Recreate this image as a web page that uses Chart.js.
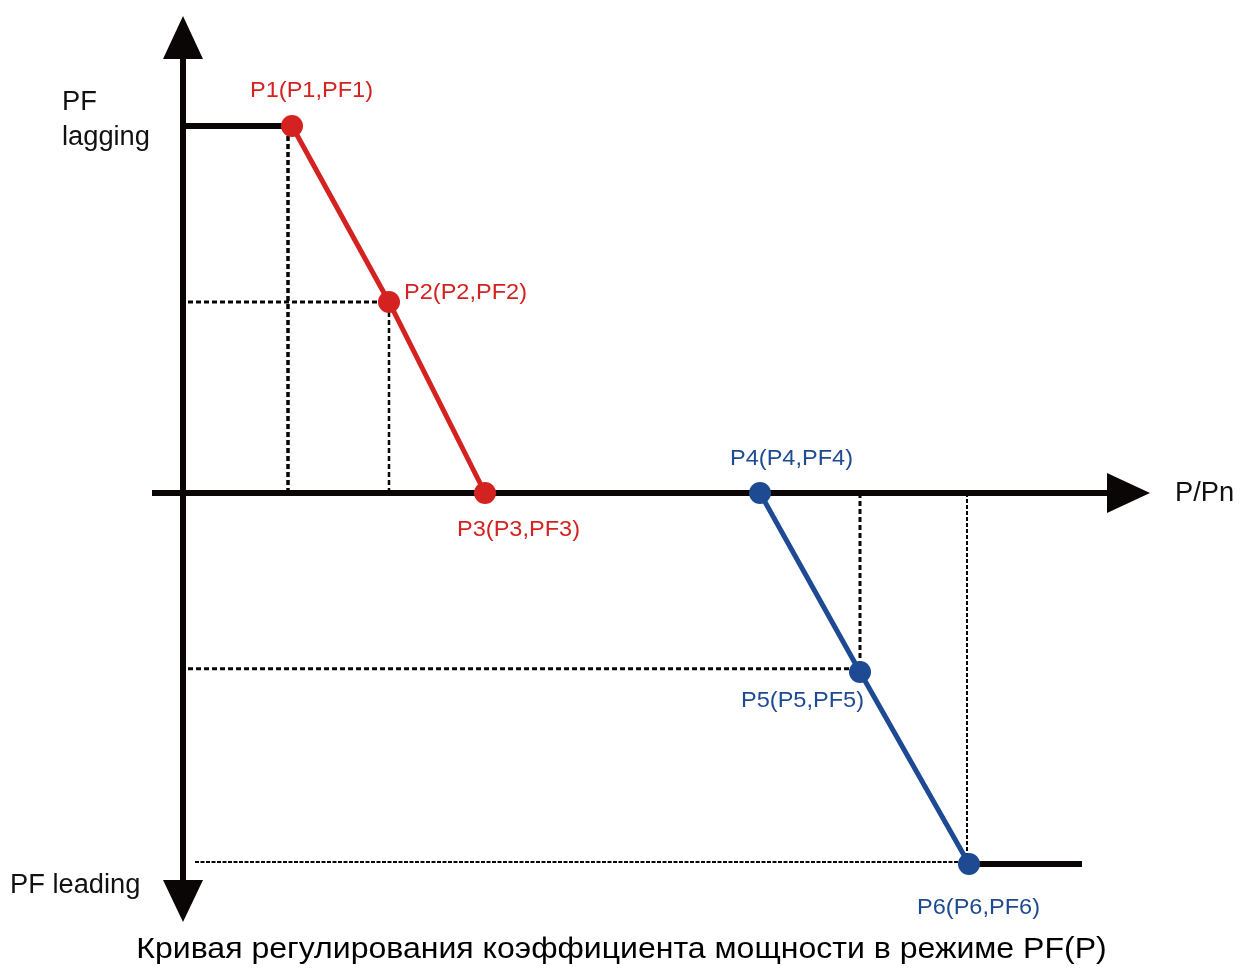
<!DOCTYPE html>
<html>
<head>
<meta charset="utf-8">
<script src="https://cdn.jsdelivr.net/npm/chart.js@4"></script>
<style>
  html, body { margin: 0; padding: 0; background: #fff; }
  #wrap { width: 1241px; height: 979px; }
</style>
</head>
<body>
<div id="wrap"><canvas id="pfChart"></canvas></div>
<script>
// ================= DATA =================
const pointNames = ["P1(P1,PF1)", "P2(P2,PF2)", "P3(P3,PF3)", "P4(P4,PF4)", "P5(P5,PF5)", "P6(P6,PF6)"];
const pValues = [0.109, 0.206, 0.302, 0.577, 0.677, 0.786];   // P/Pn
const pfValues = [0.9175, 0.4775, 0, 0, -0.4475, -0.9275];    // PF (+ lagging, - leading)
const flatEnd = 0.899;                                         // end of PF6 plateau
const guideStartX = [0.005, 0.005, 0.012];                     // left ends of horizontal guides (P2, P5, P6)

const xTitle = "P/Pn";
const yTopTitle = ["PF", "lagging"];
const yBottomTitle = "PF leading";
const chartTitle = "Кривая регулирования коэффициента мощности в режиме PF(P)";

// ================= STYLES =================
const RED = "#d42220";
const BLUE = "#1d4a93";
const INK = "#0a0606";
const FONT = "'Liberation Sans', Arial, sans-serif";

const pt = i => ({ x: pValues[i], y: pfValues[i] });

// label offsets relative to the point (px): [dx, dy, align]
const labelPlace = [
  [-42, -35, "left"],
  [15, -9, "left"],
  [-28, 37, "left"],
  [-30, -34, "left"],
  [4, 29, "right"],
  [-52, 44, "left"]
];

function seg(a, b, color, width, dash) {
  return {
    data: [a, b],
    borderColor: color,
    borderWidth: width,
    borderDash: dash || [],
    pointRadius: 0,
    fill: false,
    showLine: true
  };
}

const datasets = [
  // red segment P1-P2-P3
  {
    data: [pt(0), pt(1), pt(2)],
    borderColor: RED, backgroundColor: RED,
    borderWidth: 5, pointRadius: 11, pointBorderWidth: 0,
    showLine: true, fill: false
  },
  // blue segment P4-P5-P6
  {
    data: [pt(3), pt(4), pt(5)],
    borderColor: BLUE, backgroundColor: BLUE,
    borderWidth: 5, pointRadius: 11, pointBorderWidth: 0,
    showLine: true, fill: false
  },
  // black plateaus
  seg({ x: 0, y: pfValues[0] }, pt(0), INK, 6),
  seg(pt(5), { x: flatEnd, y: pfValues[5] }, INK, 6),
  // dashed guides
  seg({ x: pValues[0] - 0.004, y: 0 }, { x: pValues[0] - 0.004, y: pfValues[0] }, INK, 3.5, [5, 3]),
  seg({ x: pValues[1], y: 0 }, { x: pValues[1], y: pfValues[1] }, INK, 2.5, [5, 3]),
  seg({ x: guideStartX[0], y: pfValues[1] }, pt(1), INK, 3, [5, 3]),
  seg({ x: pValues[4], y: 0 }, { x: pValues[4], y: pfValues[4] }, INK, 3, [5, 3]),
  seg({ x: guideStartX[1], y: pfValues[4] + 0.008 }, { x: pValues[4], y: pfValues[4] + 0.008 }, INK, 3, [5, 3]),
  seg({ x: pValues[5] - 0.002, y: 0 }, { x: pValues[5] - 0.002, y: pfValues[5] }, INK, 2, [4, 2]),
  seg({ x: guideStartX[2], y: pfValues[5] + 0.005 }, { x: pValues[5], y: pfValues[5] + 0.005 }, INK, 2, [4, 1.5])
];

// text drawn with a slight horizontal stretch like the original artwork
function stretchText(ctx, text, px, py, sx, align) {
  ctx.save();
  ctx.translate(px, py);
  ctx.scale(sx, 1);
  ctx.textAlign = align;
  ctx.fillText(text, 0, 0);
  ctx.restore();
}

// ================= AXES WITH ARROWS =================
const axesPlugin = {
  id: "arrowAxes",
  beforeDatasetsDraw(chart) {
    const { ctx, scales: { x, y } } = chart;
    const x0 = x.getPixelForValue(0);
    const y0 = y.getPixelForValue(0);
    const xL = x.getPixelForValue(-0.031);
    const xTip = x.getPixelForValue(0.967);
    const yTop = y.getPixelForValue(1.1925);
    const yBot = y.getPixelForValue(-1.0725);
    ctx.save();
    ctx.fillStyle = INK;
    ctx.strokeStyle = INK;
    ctx.lineWidth = 6;
    ctx.beginPath();
    ctx.moveTo(x0, yTop + 40); ctx.lineTo(x0, yBot - 40);
    ctx.moveTo(xL, y0); ctx.lineTo(xTip - 40, y0);
    ctx.stroke();
    // arrow heads
    ctx.beginPath();
    ctx.moveTo(x0, yTop); ctx.lineTo(x0 - 20, yTop + 43); ctx.lineTo(x0 + 20, yTop + 43); ctx.closePath();
    ctx.moveTo(x0, yBot); ctx.lineTo(x0 - 20, yBot - 42); ctx.lineTo(x0 + 20, yBot - 42); ctx.closePath();
    ctx.moveTo(xTip, y0); ctx.lineTo(xTip - 43, y0 - 20); ctx.lineTo(xTip - 43, y0 + 20); ctx.closePath();
    ctx.fill();
    ctx.restore();
  },
  afterDatasetsDraw(chart) {
    const { ctx, scales: { x, y } } = chart;
    ctx.save();
    ctx.textBaseline = "middle";
    // point labels
    ctx.font = "22px " + FONT;
    pointNames.forEach((name, i) => {
      const [dx, dy, align] = labelPlace[i];
      ctx.fillStyle = i < 3 ? RED : BLUE;
      stretchText(ctx, name, x.getPixelForValue(pValues[i]) + dx, y.getPixelForValue(pfValues[i]) + dy, 1.07, align);
    });
    // axis titles
    ctx.fillStyle = "#111";
    ctx.font = "27px " + FONT;
    const x0 = x.getPixelForValue(0);
    const yLag = y.getPixelForValue(pfValues[0]);
    stretchText(ctx, yTopTitle[0], x0 - 121, yLag - 23, 1.01, "left");
    stretchText(ctx, yTopTitle[1], x0 - 121, yLag + 12, 1.01, "left");
    stretchText(ctx, yBottomTitle, x0 - 173, y.getPixelForValue(pfValues[5]) + 22, 1.01, "left");
    stretchText(ctx, xTitle, x.getPixelForValue(0.992), y.getPixelForValue(0) + 1, 1.01, "left");
    // chart title, centred on the page
    ctx.fillStyle = "#000";
    ctx.font = "30px " + FONT;
    stretchText(ctx, chartTitle, chart.width / 2 + 1, chart.height - 29, 1.068, "center");
    ctx.restore();
  }
};

// ================= CHART =================
new Chart(document.getElementById("pfChart"), {
  type: "scatter",
  data: { datasets },
  options: {
    responsive: true,
    maintainAspectRatio: false,
    animation: false,
    layout: { padding: { left: 133, right: 58, top: 13, bottom: 54 } },
    scales: {
      x: { type: "linear", min: -0.05, max: 1.0, display: false },
      y: { type: "linear", min: -1.08, max: 1.2, display: false }
    },
    plugins: {
      legend: { display: false },
      tooltip: { enabled: false },
      title: { display: false }
    }
  },
  plugins: [axesPlugin]
});
</script>
</body>
</html>
